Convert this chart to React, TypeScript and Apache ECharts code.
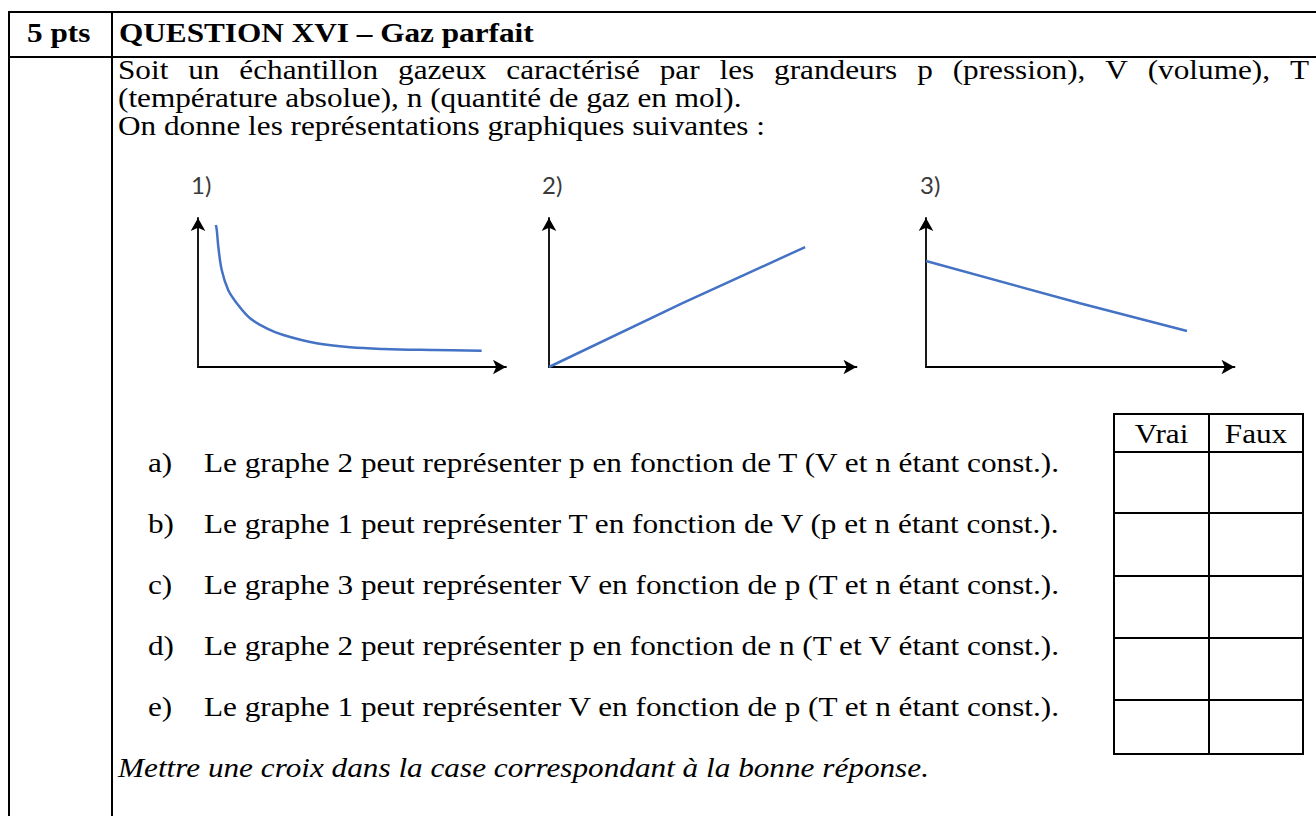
import React, { useEffect, useRef } from 'react';
import * as echarts from 'echarts';

// ---------- data ----------
const graph1X = [5.8, 6.1, 6.6, 7.7, 9.8, 12.6, 16.9, 22.3, 27.7, 38.5, 49.4, 60.2, 76.4, 92.1];
const graph1Y = [95.3, 91.9, 80.7, 65.1, 51.7, 42.8, 32.7, 26.0, 21.5, 15.9, 13.2, 12.1, 11.4, 10.9];
const graph2X = [0, 43.6, 83.3];
const graph2Y = [0, 43.0, 80.5];
const graph3X = [0, 49.9, 84.6];
const graph3Y = [71.1, 42.8, 24.2];
const graphLabels = ['1)', '2)', '3)'];

const headerPoints = '5 pts';
const headerTitle = 'QUESTION XVI – Gaz parfait';
const introLine1 = ['Soit', 'un', 'échantillon', 'gazeux', 'caractérisé', 'par', 'les', 'grandeurs', 'p', '(pression),', 'V', '(volume),', 'T'];
const introLine2 = '(température absolue), n (quantité de gaz en mol).';
const introLine3 = 'On donne les représentations graphiques suivantes :';
const itemLetters = ['a)', 'b)', 'c)', 'd)', 'e)'];
const itemTexts = [
  'Le graphe 2 peut représenter p en fonction de T (V et n étant const.).',
  'Le graphe 1 peut représenter T en fonction de V (p et n étant const.).',
  'Le graphe 3 peut représenter V en fonction de p (T et n étant const.).',
  'Le graphe 2 peut représenter p en fonction de n (T et V étant const.).',
  'Le graphe 1 peut représenter V en fonction de p (T et n étant const.).',
];
const answerHeaders = ['Vrai', 'Faux'];
const footerText = 'Mettre une croix dans la case correspondant à la bonne réponse.';

// ---------- layout ----------
const W = 1316;
const H = 816;
const SERIF = '"Liberation Serif", "Times New Roman", serif';
const FS = 27;
const SX = 1.157;
const CENTRAL = 0.3375;

const GRIDS = [
  { left: 198, top: 218, width: 308, height: 149 },
  { left: 549, top: 218, width: 307.5, height: 149 },
  { left: 926, top: 218, width: 308.5, height: 149 },
];
const LABEL_X = [191, 542, 920];

function txt(text: string, x: number, baseline: number, o: any = {}) {
  return {
    type: 'text',
    x,
    y: baseline - CENTRAL * FS,
    scaleX: SX,
    silent: true,
    style: {
      text,
      fontFamily: SERIF,
      fontSize: FS,
      fontWeight: o.weight || 'normal',
      fontStyle: o.style || 'normal',
      fill: '#000',
      textAlign: o.align || 'left',
      textVerticalAlign: 'middle',
    },
  };
}

function ln(x1: number, y1: number, x2: number, y2: number, w = 2) {
  return { type: 'line', silent: true, shape: { x1, y1, x2, y2 }, style: { stroke: '#000', lineWidth: w } };
}

function measure(text: string, font: string) {
  const c = document.createElement('canvas').getContext('2d');
  if (!c) return text.length * 10;
  c.font = font;
  return c.measureText(text).width;
}

export default function App() {
  const ref = useRef<HTMLDivElement>(null);

  useEffect(() => {
    if (!ref.current) return;
    const chart = echarts.init(ref.current, null, { renderer: 'svg' });

    const graphic: any[] = [];

    // outer table
    graphic.push(ln(8, 12, W, 12));
    graphic.push(ln(8, 57, W, 57));
    graphic.push(ln(9, 11, 9, H));
    graphic.push(ln(112, 11, 112, H));

    // header
    graphic.push(txt(headerPoints, 27, 42, { weight: 'bold' }));
    graphic.push(txt(headerTitle, 119, 42, { weight: 'bold' }));

    // justified first line
    const font = `${FS}px ${SERIF}`;
    const widths = introLine1.map((w) => measure(w, font) * SX);
    const total = widths.reduce((a, b) => a + b, 0);
    const start = 118;
    const end = 1309;
    const gap = (end - start - total) / (introLine1.length - 1);
    let cx = start;
    introLine1.forEach((w, i) => {
      graphic.push(txt(w, cx, 79));
      cx += widths[i] + gap;
    });
    graphic.push(txt(introLine2, 118, 107));
    graphic.push(txt(introLine3, 118, 135));

    // graph labels
    graphLabels.forEach((l, i) => {
      graphic.push({
        type: 'text',
        x: LABEL_X[i],
        y: 184,
        silent: true,
        style: {
          text: l,
          fontFamily: 'Lato, "Noto Sans", sans-serif',
          fontSize: 24,
          fill: '#3a3a3a',
          textAlign: 'left',
          textVerticalAlign: 'middle',
        },
      });
    });

    // items
    const baselines = [472, 533, 594, 655, 716];
    itemLetters.forEach((l, i) => {
      graphic.push(txt(l, 148, baselines[i]));
      graphic.push(txt(itemTexts[i], 204, baselines[i]));
    });

    // answer table
    const tL = 1114, tR = 1303, tM = 1209, tT = 414;
    const rowLines = [452, 513, 576, 638, 700];
    const tB = 754;
    graphic.push({
      type: 'rect',
      silent: true,
      shape: { x: tL, y: tT, width: tR - tL, height: tB - tT },
      style: { fill: 'none', stroke: '#000', lineWidth: 2 },
    });
    graphic.push(ln(tM, tT, tM, tB));
    rowLines.forEach((y) => graphic.push(ln(tL, y, tR, y)));
    graphic.push(txt(answerHeaders[0], (tL + tM) / 2, 443, { align: 'center' }));
    graphic.push(txt(answerHeaders[1], (tM + tR) / 2, 443, { align: 'center' }));

    // footer
    graphic.push(txt(footerText, 118, 777, { style: 'italic' }));

    const axisCommon = (i: number) => ({
      gridIndex: i,
      type: 'value',
      min: 0,
      max: 100,
      axisLine: {
        show: true,
        onZero: false,
        symbol: ['none', 'arrow'],
        symbolSize: [11, 13],
        lineStyle: { color: '#000', width: 1.8 },
      },
      axisTick: { show: false },
      axisLabel: { show: false },
      splitLine: { show: false },
    });

    const seriesData = [
      { x: graph1X, y: graph1Y, smooth: 0.35 },
      { x: graph2X, y: graph2Y, smooth: false },
      { x: graph3X, y: graph3Y, smooth: false },
    ];

    chart.setOption({
      animation: false,
      backgroundColor: '#fff',
      grid: GRIDS.map((g) => ({ ...g, containLabel: false, outerBoundsMode: 'none' })),
      xAxis: GRIDS.map((_, i) => axisCommon(i)),
      yAxis: GRIDS.map((_, i) => axisCommon(i)),
      series: seriesData.map((s, i) => ({
        type: 'line',
        xAxisIndex: i,
        yAxisIndex: i,
        data: s.x.map((v, k) => [v, s.y[k]]),
        showSymbol: false,
        symbol: 'none',
        smooth: s.smooth,
        lineStyle: { color: '#4472C4', width: 2.5 },
        silent: true,
      })),
      graphic,
    });

    return () => chart.dispose();
  }, []);

  return (
    <div
      ref={ref}
      style={{ position: 'fixed', left: 0, top: 0, width: W, height: H, background: '#fff' }}
    />
  );
}
